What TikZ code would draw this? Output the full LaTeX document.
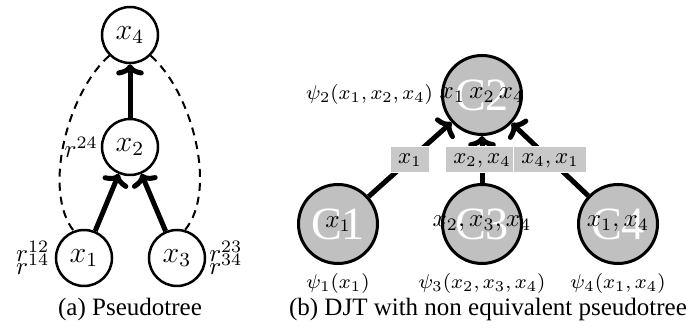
\documentclass[tikz,border=0pt]{standalone}
\usepackage[no-math]{fontspec}
\setmainfont{Liberation Serif}
\usepackage{tikz}
\usetikzlibrary{arrows.meta}
\definecolor{cliquegray}{RGB}{192,192,192}
\definecolor{sepgray}{RGB}{200,200,200}

\begin{document}
\begin{tikzpicture}[x=0.4pt,y=-0.4pt,
    var/.style={circle,draw,line width=1pt,minimum size=22.4pt,inner sep=0pt,font=\large},
    clique/.style={circle,draw,line width=1.2pt,fill=cliquegray,minimum size=31.6pt,inner sep=0pt,
      text=white,font=\fontsize{18.5}{21}\selectfont},
    sepbox/.style={fill=sepgray,draw=white,line width=0.4pt,inner xsep=3pt,inner ysep=2pt,
      text height=5pt,text depth=1.5pt,font=\small},
    treeedge/.style={line width=2pt,-{To[length=4.5pt,width=11pt]}},
    backedge/.style={line width=0.8pt,dash pattern=on 3.2pt off 2.4pt}]
    \useasboundingbox (0,0) rectangle (700,331);

    % (a) pseudotree
    \node[var] (x4) at (130,35) {$x_4$};
    \node[var,label={[inner sep=1pt]left:$r^{24}$}] (x2) at (130,147) {$x_2$};
    \node[var,label={[yshift=2.8pt,inner sep=2pt]left:$r^{12}$},
      label={[yshift=-2.4pt,inner sep=2pt]left:$r^{14}$}] (x1) at (84,258) {$x_1$};
    \node[var,label={[yshift=2.8pt,inner sep=1pt]right:$r^{23}$},
      label={[yshift=-2.4pt,inner sep=1pt]right:$r^{34}$}] (x3) at (177,258) {$x_3$};

    \draw[treeedge] (x2) -- (x4);
    \draw[treeedge] (x1) -- (x2);
    \draw[treeedge] (x3) -- (x2);
    \draw[backedge] (x4.225) .. controls (68,92) and (42,190) .. (x1.111);
    \draw[backedge] (x4.315) .. controls (192,92) and (218,190) .. (x3.74);

    \node (capa) at (130,309) {(a) Pseudotree};

    % (b) DJT
    \node[clique,label={[text=black]center:$x_1\,x_2\,x_4$},
      label={[text=black,font=\footnotesize,inner sep=0pt,label distance=3pt]left:$\psi_2(x_1,x_2,x_4)$}] (C2) at (482,95) {C2};
    \node[clique,label={[text=black]center:$x_1$},
      label={[text=black,font=\footnotesize]below:$\psi_1(x_1)$}] (C1) at (338,224) {C1};
    \node[clique,label={[text=black]center:$x_2,x_3,x_4$},
      label={[text=black,font=\footnotesize]below:$\psi_3(x_2,x_3,x_4)$}] (C3) at (482,224) {C3};
    \node[clique,label={[text=black]center:$x_1,x_4$},
      label={[text=black,font=\footnotesize]below:$\psi_4(x_1,x_4)$}] (C4) at (618,224) {C4};

    \draw[treeedge] (C1) -- node[sepbox] (s12) {$x_1$} (C2);
    \draw[treeedge] (C3) -- node[sepbox] (s32) {$x_2,x_4$} (C2);
    \draw[treeedge] (C4) -- node[sepbox] (s42) {$x_4,x_1$} (C2);

    \node (capb) at (488,309) {(b) DJT with non equivalent pseudotree};
\end{tikzpicture}
\end{document}
